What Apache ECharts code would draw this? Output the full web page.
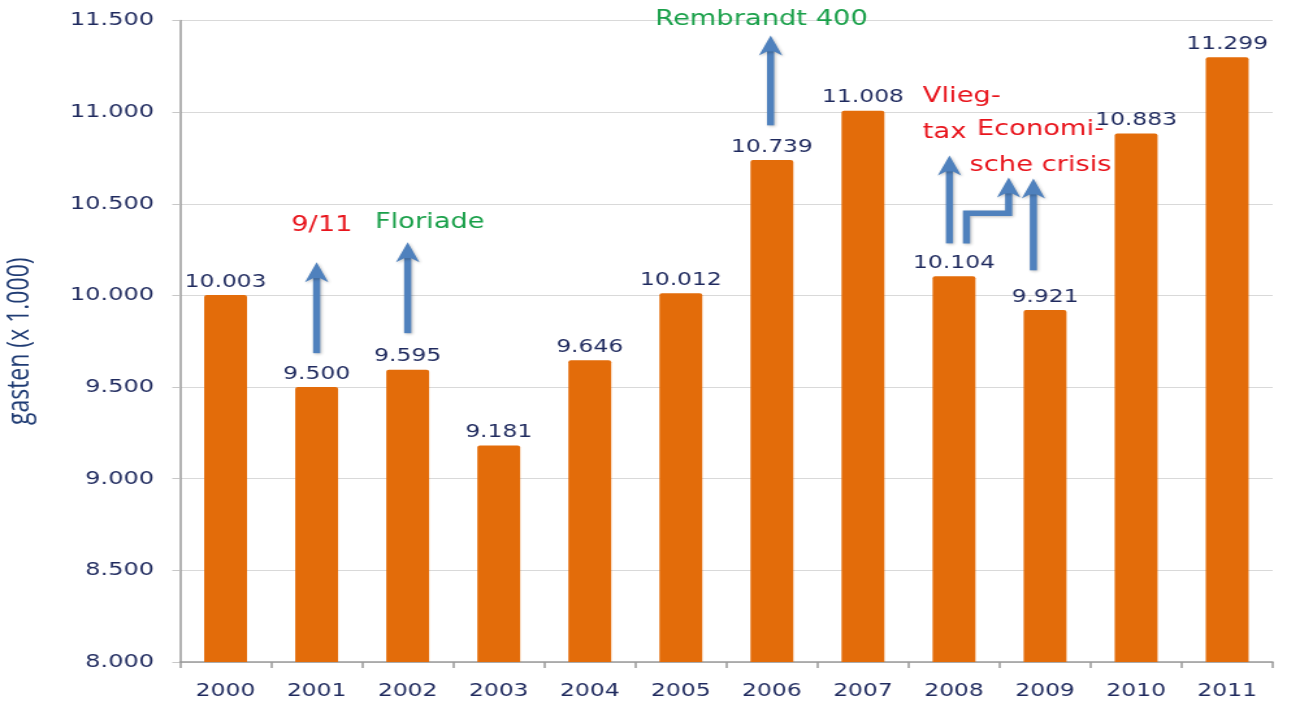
<!DOCTYPE html>
<html>
<head>
<meta charset="utf-8">
<script src="https://cdn.jsdelivr.net/npm/echarts@6/dist/echarts.min.js"></script>
<style>
html, body { margin: 0; padding: 0; background: #fff; overflow: hidden; }
/* the source picture is stretched sideways, so the chart is drawn narrow and widened */
#chart { width: 999px; height: 714px; transform: scaleX(1.3); transform-origin: 0 0; }
</style>
</head>
<body>
<div id="chart"></div>
<script>
const years = ['2000', '2001', '2002', '2003', '2004', '2005', '2006', '2007', '2008', '2009', '2010', '2011'];
const guests = [10003, 9500, 9595, 9181, 9646, 10012, 10739, 11008, 10104, 9921, 10883, 11299];
const yTicks = [8000, 8500, 9000, 9500, 10000, 10500, 11000, 11500];

// event arrows: points as [category index, pixel nudge, value]
const arrows = [
  [[1, 0, 9685], [1, 0, 10181]],
  [[2, 0, 9794], [2, 0, 10290]],
  [[6, -1, 10928], [6, -1, 11418]],
  [[8, -3.5, 10284], [8, -3.5, 10764]],
  [[8, 9.6, 10284], [8, 9.6, 10448], [9, -28, 10448], [9, -28, 10644]],
  [[9, -9, 10137], [9, -9, 10638]]
];
const notes = [
  { text: '9/11', color: '#e8141c', cat: 1, dx: 4, value: 10382, align: 'center' },
  { text: 'Floriade', color: '#1aa04a', cat: 2, dx: 17, value: 10399, align: 'center' },
  { text: 'Rembrandt 400', color: '#1aa04a', cat: 6, dx: -8, value: 11505, align: 'center' },
  { text: 'Vlieg-\ntax', color: '#e8141c', cat: 8, dx: -24, value: 10985, align: 'left' },
  { text: 'Economi-\nsche crisis', color: '#e8141c', cat: 9, dx: -3.5, value: 10805, align: 'center' }
];

const navy = '#1f2a5e';
const font = '"DejaVu Sans", Verdana, sans-serif';

function dots(v) {
  return String(v).replace(/\B(?=(\d{3})+(?!\d))/g, '.');
}

let option = {
  animation: false,
  grid: { left: 138.5, right: 20, top: 20.5, bottom: 52, containLabel: false, outerBoundsMode: 'none' },
  xAxis: {
    type: 'category',
    data: years,
    axisLine: { lineStyle: { color: '#9a9a9a', width: 1.5 } },
    axisTick: { show: true, length: 6, lineStyle: { color: '#9a9a9a', width: 1.5 } },
    axisLabel: { color: navy, fontFamily: font, fontSize: 18, margin: 20 }
  },
  yAxis: {
    type: 'value',
    min: yTicks[0],
    max: yTicks[yTicks.length - 1],
    interval: yTicks[1] - yTicks[0],
    name: 'gasten (x 1.000)',
    nameLocation: 'middle',
    nameRotate: 90,
    nameGap: 112,
    nameTextStyle: { color: '#1f3b73', fontFamily: '"Open Sans", sans-serif', fontSize: 23 },
    axisLine: { show: true, lineStyle: { color: '#9a9a9a', width: 1.5 } },
    axisTick: { show: true, length: 6, lineStyle: { color: '#c8c8c8' } },
    splitLine: { lineStyle: { color: '#d9d9d9', width: 1.2 } },
    axisLabel: { color: navy, fontFamily: font, fontSize: 18.5, margin: 20, formatter: dots }
  },
  series: [{
    type: 'bar',
    data: guests,
    barWidth: 33,
    itemStyle: { color: '#e36c0a', borderRadius: [2, 2, 0, 0] },
    label: {
      show: true,
      position: 'top',
      distance: 4,
      color: navy,
      fontFamily: font,
      fontSize: 18,
      formatter: p => dots(p.value)
    }
  }]
};

const chart = echarts.init(document.getElementById('chart'));
chart.setOption(option);

function px(cat, dx, value) {
  const p = chart.convertToPixel({ gridIndex: 0 }, [cat, value]);
  return [p[0] + dx, p[1]];
}

let graphics = [];
arrows.forEach(a => {
  const pts = a.map(p => px(p[0], p[1], p[2]));
  const tip = pts[pts.length - 1];
  const shaft = pts.slice(0, -1).concat([[tip[0], tip[1] + 15]]);
  const shadow = { shadowBlur: 3, shadowColor: 'rgba(0,0,0,0.25)', shadowOffsetX: 1, shadowOffsetY: 1 };
  graphics.push({
    type: 'polyline',
    shape: { points: shaft },
    style: Object.assign({ stroke: '#4f81bd', lineWidth: 5.5, fill: null }, shadow)
  });
  const x = tip[0], y = tip[1];
  graphics.push({
    type: 'polygon',
    shape: { points: [[x, y], [x + 9, y + 20], [x + 2.7, y + 16], [x - 2.7, y + 16], [x - 9, y + 20]] },
    style: Object.assign({ fill: '#4f81bd' }, shadow)
  });
});
notes.forEach(n => {
  const p = px(n.cat, n.dx, n.value);
  graphics.push({
    type: 'text',
    x: p[0],
    y: p[1],
    style: {
      text: n.text,
      fill: n.color,
      fontFamily: font,
      fontSize: 21,
      lineHeight: 36,
      align: n.align,
      verticalAlign: 'middle'
    }
  });
});
chart.setOption({ graphic: graphics });
</script>
</body>
</html>
